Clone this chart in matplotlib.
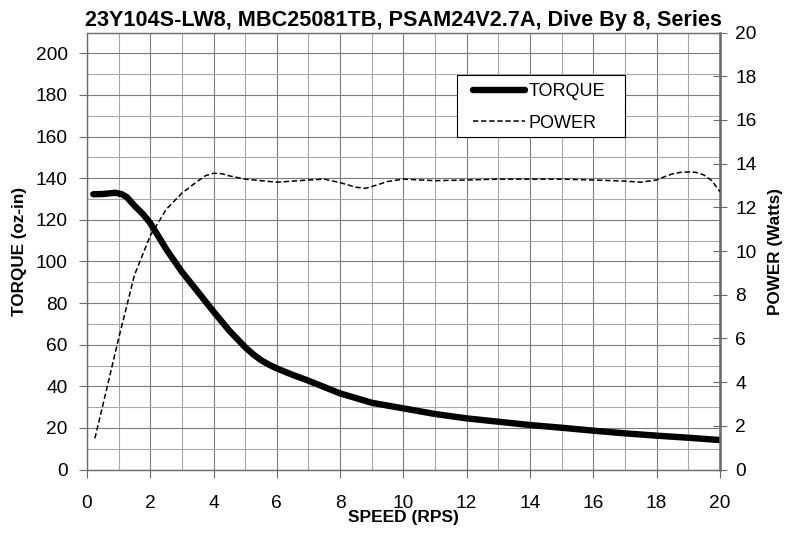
import matplotlib

matplotlib.use("Agg")

import matplotlib.pyplot as plt
from matplotlib.patches import Rectangle
from matplotlib.ticker import MultipleLocator

plt.rcParams["font.family"] = ["Liberation Sans", "DejaVu Sans"]

# torque curve (oz-in) vs speed (RPS)
TORQUE_SPEED = [0.2, 0.5, 0.9, 1.1, 1.26, 1.5, 1.79, 2, 2.26, 2.5, 2.74, 3, 3.5, 4,
                4.5, 5, 5.25, 5.5, 5.75, 6, 6.5, 7, 8, 9, 10, 11, 12, 13, 14, 15,
                16, 17, 18, 19, 20]
TORQUE = [132.3, 132.4, 133.0, 132.3, 130.9, 126.8, 122.4, 118.4, 112.0, 106.0,
          100.7, 95.0, 85.5, 75.9, 66.7, 58.8, 55.4, 52.6, 50.4, 48.6, 45.5, 42.7,
          36.6, 32.1, 29.4, 26.7, 24.6, 23.0, 21.4, 20.1, 18.7, 17.4, 16.3, 15.3,
          14.2]

# power curve (Watts) vs speed (RPS)
POWER_SPEED = [0.25, 0.5, 1, 1.5, 2, 2.5, 3, 3.5, 3.75, 4, 4.25, 4.5, 5, 6, 7, 7.5,
               8, 8.5, 8.8, 9, 9.5, 10, 11, 12, 13, 14, 15, 16, 17, 17.5, 18, 18.25,
               18.5, 18.75, 19, 19.25, 19.5, 19.75, 20]
POWER = [1.43, 2.94, 6.0, 8.9, 10.7, 11.9, 12.65, 13.2, 13.45, 13.56, 13.54, 13.44,
         13.29, 13.15, 13.25, 13.29, 13.13, 12.92, 12.87, 12.95, 13.18, 13.29, 13.22,
         13.25, 13.29, 13.29, 13.29, 13.25, 13.2, 13.15, 13.25, 13.4, 13.53, 13.6,
         13.62, 13.6, 13.48, 13.22, 12.72]

TITLE = "23Y104S-LW8, MBC25081TB, PSAM24V2.7A, Dive By 8, Series"

fig = plt.figure(figsize=(7.98, 5.33), dpi=100)
ax = fig.add_axes([0.109, 0.119, 0.793, 0.820])
ax2 = ax.twinx()

grid_major = "#7c7c7c"
grid_minor = "#a8a8a8"
spine_col = "#6a6a6a"

# left axis / grid
ax.set_xlim(0, 20)
ax.set_ylim(0, 210)
ax.xaxis.set_major_locator(MultipleLocator(2))
ax.xaxis.set_minor_locator(MultipleLocator(1))
ax.yaxis.set_minor_locator(MultipleLocator(10))
ax.set_yticks(range(0, 201, 20))
ax.grid(which="major", color=grid_major, linewidth=0.8)
ax.grid(which="minor", color=grid_minor, linewidth=0.8)
ax.set_axisbelow(True)
ax.tick_params(which="major", length=6, width=0.8, color=spine_col, labelsize=13.8)
ax.tick_params(axis="y", which="major", pad=8)
ax.tick_params(axis="x", which="major", pad=12)
ax.tick_params(which="minor", length=0)
for s in ax.spines.values():
    s.set_color(spine_col)
    s.set_linewidth(1.0)

torque_line, = ax.plot(TORQUE_SPEED, TORQUE, color="black", linewidth=4.6,
                       solid_capstyle="round", solid_joinstyle="round", zorder=3)

# right axis
ax2.set_ylim(0, 20)
ax2.set_yticks(range(0, 21, 2))
ax2.tick_params(axis="y", direction="inout", length=10, width=0.8, color=spine_col,
                labelsize=13.8, pad=6)
ax2.spines["right"].set_color(spine_col)
ax2.spines["right"].set_linewidth(1.8)
for side in ("left", "top", "bottom"):
    ax2.spines[side].set_visible(False)

power_line, = ax2.plot(POWER_SPEED, POWER, color="black", linewidth=1.1,
                       dashes=(3.5, 1.8), zorder=3)

ax.set_title(TITLE, fontsize=15.6, fontweight="bold", pad=5)
ax.set_xlabel("SPEED (RPS)", fontsize=12.5, fontweight="bold", labelpad=-1)
ax.set_ylabel("TORQUE (oz-in)", fontsize=12.3, fontweight="bold", labelpad=6)
ax2.set_ylabel("POWER (Watts)", fontsize=12.3, fontweight="bold", labelpad=8)

# legend: white box with a black outline, entries without their own frame
ax2.add_patch(Rectangle((0.585, 0.761), 0.265, 0.142, transform=ax2.transAxes,
                        facecolor="white", edgecolor="black", linewidth=0.8,
                        zorder=4, clip_on=False))
leg = ax2.legend([torque_line, power_line], ["TORQUE", "POWER"],
                 loc="upper left", bbox_to_anchor=(0.610, 0.884),
                 fontsize=13, frameon=False, handlelength=2.9, handletextpad=0.2,
                 borderpad=0, labelspacing=0.8, borderaxespad=0)
leg.set_zorder(5)

fig.savefig("out.png", dpi=100)
